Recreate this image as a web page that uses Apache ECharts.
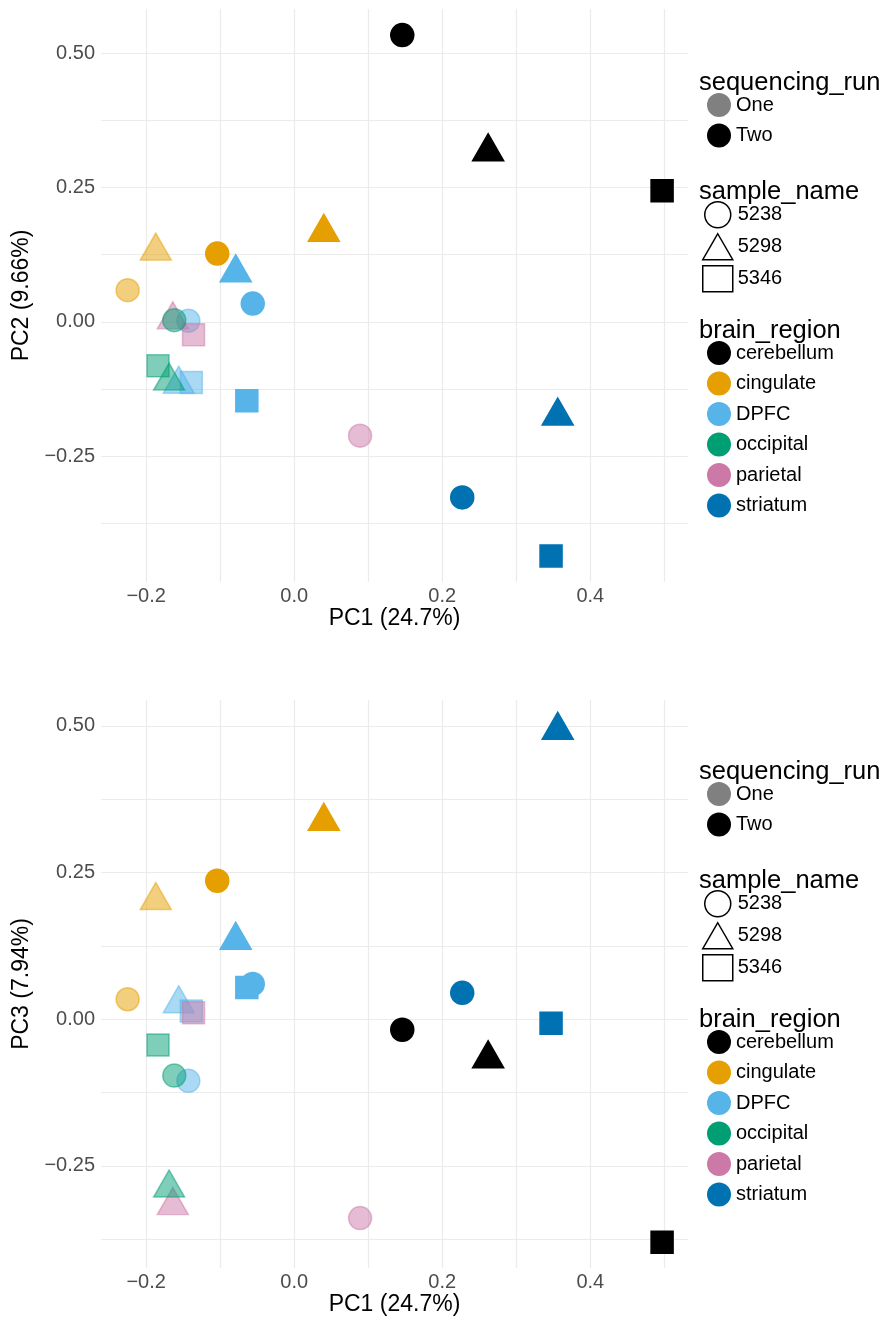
<!DOCTYPE html>
<html>
<head>
<meta charset="utf-8">
<title>PCA brain regions</title>
<script src="https://cdn.jsdelivr.net/npm/echarts@6/dist/echarts.min.js"></script>
<style>
  html, body { margin: 0; padding: 0; background: #fff; }
  #chart { width: 887px; height: 1317px; }
</style>
</head>
<body>
<div id="chart"></div>
<script>
// legend groups
var regions = ['cerebellum', 'cingulate', 'DPFC', 'occipital', 'parietal', 'striatum']
var regionColors = ['#000000', '#E69F00', '#56B4E9', '#009E73', '#CC79A7', '#0072B2']
var sampleNames = ['5238', '5298', '5346']
var runs = ['One', 'Two']
var runColors = ['#808080', '#000000']

// one row per library, same order in every array
var rowRegion = ['cerebellum', 'cerebellum', 'cerebellum',
  'cingulate', 'cingulate', 'cingulate', 'cingulate',
  'DPFC', 'DPFC', 'DPFC', 'DPFC', 'DPFC', 'DPFC',
  'parietal', 'parietal', 'parietal',
  'occipital', 'occipital', 'occipital',
  'striatum', 'striatum', 'striatum']
var rowSample = ['5238', '5298', '5346',
  '5238', '5238', '5298', '5298',
  '5346', '5346', '5238', '5238', '5298', '5298',
  '5238', '5298', '5346',
  '5238', '5298', '5346',
  '5238', '5298', '5346']
var rowRun = ['Two', 'Two', 'Two',
  'One', 'Two', 'One', 'Two',
  'One', 'Two', 'One', 'Two', 'One', 'Two',
  'One', 'One', 'One',
  'One', 'One', 'One',
  'Two', 'Two', 'Two']
var pc1 = [0.146, 0.262, 0.497,
  -0.225, -0.104, -0.187, 0.040,
  -0.139, -0.064, -0.143, -0.056, -0.156, -0.079,
  0.089, -0.164, -0.136,
  -0.162, -0.169, -0.184,
  0.227, 0.356, 0.347]
var pc2 = [0.534, 0.325, 0.244,
  0.059, 0.127, 0.140, 0.175,
  -0.113, -0.147, 0.002, 0.034, -0.108, 0.0995,
  -0.212, 0.012, -0.024,
  0.003, -0.102, -0.082,
  -0.327, -0.167, -0.436]
var pc3 = [-0.018, -0.060, -0.380,
  0.034, 0.236, 0.210, 0.345,
  0.014, 0.054, -0.105, 0.060, 0.034, 0.142,
  -0.339, -0.310, 0.011,
  -0.096, -0.280, -0.044,
  0.045, 0.500, -0.007]

// axes
var xTicks = [-0.2, 0, 0.2, 0.4]
var xGridVals = [-0.2, -0.1, 0, 0.1, 0.2, 0.3, 0.4, 0.5]
var yTicks = [-0.25, 0, 0.25, 0.5]
var yGridVals = [-0.375, -0.25, -0.125, 0, 0.125, 0.25, 0.375, 0.5]

var FONT = "'Liberation Sans', Arial, sans-serif"
var shapeSymbols = ['circle', 'triangle', 'rect']
var shapeSizes = [23, [31, 27], 22]
var drawOrder = ['cerebellum', 'cingulate', 'DPFC', 'parietal', 'occipital', 'striatum']

function fmt(d) {
  return function (v) {
    return (v < 0 ? '\u2212' : '') + Math.abs(v).toFixed(d)
  }
}

function pointSeries(region, yVals, idx) {
  var color = regionColors[regions.indexOf(region)]
  var data = []
  for (var i = 0; i < rowRegion.length; i++) {
    if (rowRegion[i] !== region) continue
    var s = sampleNames.indexOf(rowSample[i])
    data.push({
      value: [pc1[i], yVals[i]],
      symbol: shapeSymbols[s],
      symbolSize: shapeSizes[s],
      itemStyle: { opacity: rowRun[i] === 'One' ? 0.5 : 1 },
    })
  }
  return {
    name: region,
    type: 'scatter',
    xAxisIndex: idx,
    yAxisIndex: idx,
    data: data,
    itemStyle: { color: color, borderColor: color, borderWidth: 1.5, opacity: 1 },
    emphasis: { disabled: true },
  }
}

function xAxisFor(idx) {
  return {
    type: 'value',
    gridIndex: idx,
    min: -0.261,
    max: 0.532,
    name: 'PC1 (24.7%)',
    nameLocation: 'middle',
    nameGap: 24,
    nameTextStyle: { fontFamily: FONT, fontSize: 23, color: '#000' },
    axisLine: { show: false },
    axisTick: { show: false, customValues: xGridVals },
    axisLabel: { customValues: xTicks, formatter: fmt(1), margin: 4, fontFamily: FONT, fontSize: 20, color: '#4D4D4D' },
    splitLine: { show: true, lineStyle: { color: '#EBEBEB', width: 1.2 } },
  }
}

function yAxisFor(idx, name, min, max) {
  return {
    type: 'value',
    gridIndex: idx,
    min: min,
    max: max,
    name: name,
    nameLocation: 'middle',
    nameGap: 50,
    nameTextStyle: { fontFamily: FONT, fontSize: 23, color: '#000' },
    axisLine: { show: false },
    axisTick: { show: false, customValues: yGridVals },
    axisLabel: { customValues: yTicks, formatter: fmt(2), margin: 6, fontFamily: FONT, fontSize: 20, color: '#4D4D4D' },
    splitLine: { show: true, lineStyle: { color: '#EBEBEB', width: 1.2 } },
  }
}

// legend block, c = vertical centre of the panel
function legendParts(c) {
  var t0 = c - 212
  var titleStyle = { fontFamily: FONT, fontSize: 25.5, fontWeight: 'normal', color: '#000', lineHeight: 28 }
  var textStyle = { fontFamily: FONT, fontSize: 20, color: '#000' }
  var titles = [
    { text: 'sequencing_run', left: 699, top: t0 - 14, padding: 0, textStyle: titleStyle },
    { text: 'sample_name', left: 699, top: t0 + 109 - 14, padding: 0, textStyle: titleStyle },
    { text: 'brain_region', left: 699, top: t0 + 248 - 14, padding: 0, textStyle: titleStyle },
  ]
  var hollow = { color: 'rgba(0,0,0,0)', borderColor: '#000', borderWidth: 1.5, opacity: 1 }
  var legends = [
    {
      orient: 'vertical', left: 707, top: t0 + 22 - 12, padding: 0,
      itemWidth: 24, itemHeight: 24, itemGap: 6.5, selectedMode: false, textStyle: textStyle,
      data: runs.map(function (r, k) {
        return { name: r, icon: 'circle', itemStyle: { color: runColors[k], borderWidth: 0, opacity: 1 } }
      }),
    },
    {
      orient: 'vertical', left: 702, top: t0 + 131 - 13, padding: 0,
      itemWidth: 30, itemHeight: 26, itemGap: 4.5, selectedMode: false, textStyle: textStyle,
      data: sampleNames.map(function (s, k) { return { name: s, icon: shapeSymbols[k], itemStyle: hollow } }),
    },
    {
      orient: 'vertical', left: 707, top: t0 + 270 - 12, padding: 0,
      itemWidth: 24, itemHeight: 24, itemGap: 6.5, selectedMode: false, textStyle: textStyle,
      data: regions.map(function (r, k) {
        return { name: r, icon: 'circle', itemStyle: { color: regionColors[k], borderWidth: 0, opacity: 1 } }
      }),
    },
  ]
  return { titles: titles, legends: legends }
}

var series = []
drawOrder.forEach(function (r) { series.push(pointSeries(r, pc2, 0)) })
drawOrder.forEach(function (r) { series.push(pointSeries(r, pc3, 1)) })
// empty series that only feed the run and sample legends
runs.forEach(function (r, k) {
  series.push({ name: r, type: 'scatter', data: [], itemStyle: { color: runColors[k], opacity: 1 } })
})
sampleNames.forEach(function (s) {
  series.push({ name: s, type: 'scatter', data: [], itemStyle: { color: '#000000', opacity: 1 } })
})

var topLeg = legendParts(295)
var botLeg = legendParts(984)

var chart = echarts.init(document.getElementById('chart'))
chart.setOption({
  animation: false,
  backgroundColor: '#fff',
  textStyle: { fontFamily: FONT },
  title: topLeg.titles.concat(botLeg.titles),
  legend: topLeg.legends.concat(botLeg.legends),
  grid: [
    { left: 101, top: 9, width: 587, height: 573, outerBoundsMode: 'none' },
    { left: 101, top: 700, width: 587, height: 568, outerBoundsMode: 'none' },
  ],
  xAxis: [xAxisFor(0), xAxisFor(1)],
  yAxis: [
    yAxisFor(0, 'PC2 (9.66%)', -0.4845, 0.5825),
    yAxisFor(1, 'PC3 (7.94%)', -0.424, 0.544),
  ],
  series: series,
})
</script>
</body>
</html>
